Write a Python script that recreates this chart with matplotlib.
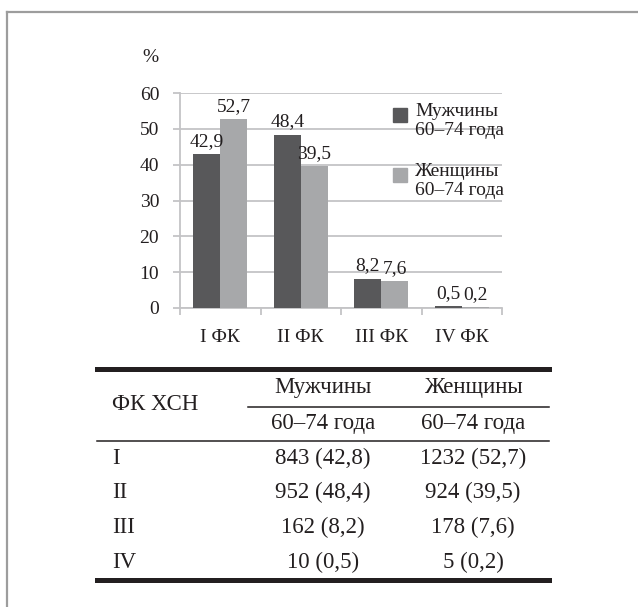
import matplotlib
matplotlib.use("Agg")
import matplotlib.pyplot as plt
from matplotlib.lines import Line2D
from matplotlib.patches import Rectangle

plt.rcParams['font.family'] = ['Liberation Serif', 'DejaVu Serif']

W, H = 638, 607

# chart data
classes = ["I ФК", "II ФК", "III ФК", "IV ФК"]
men = [42.9, 48.4, 8.2, 0.5]
women = [52.7, 39.5, 7.6, 0.2]
series_names = ["Мужчины\n60–74 года", "Женщины\n60–74 года"]

# table data
row_names = ["I", "II", "III", "IV"]
men_n = [843, 952, 162, 10]
men_pct = [42.8, 48.4, 8.2, 0.5]
women_n = [1232, 924, 178, 5]
women_pct = [52.7, 39.5, 7.6, 0.2]

dark = "#58585a"
light = "#a7a8aa"
grid = "#c4c4c6"
ink = "#231f20"
fs = 14      # chart text
ts = 16.5    # table text


def fx(x):
    return x / W


def fy(y):
    return 1 - y / H


def comma(v):
    return f"{v:.1f}".replace(".", ",")


fig = plt.figure(figsize=(W / 100, H / 100), dpi=100)

# frame of the figure (cropped on the right and bottom)
fig.add_artist(Line2D([fx(7), 1], [fy(12), fy(12)], color="#9d9d9d", lw=1.6))
fig.add_artist(Line2D([fx(7), fx(7)], [fy(12), 0], color="#9d9d9d", lw=1.6))

ax = fig.add_axes([fx(180), fy(308), fx(502) - fx(180), fy(93) - fy(308)])
x = range(len(classes))
bw = 0.334
b1 = ax.bar([i - bw / 2 for i in x], men, bw, color=dark, zorder=3)
b2 = ax.bar([i + bw / 2 for i in x], women, bw, color=light, zorder=3)
for bars, vals in ((b1, men), (b2, women)):
    for rect, v in zip(bars, vals):
        ax.annotate(comma(v), (rect.get_x() + rect.get_width() / 2, v),
                    xytext=(0, 3), textcoords="offset points",
                    ha="center", va="bottom", fontsize=fs, color=ink)

ax.set_xlim(-0.5, 3.5)
ax.set_ylim(0, 60)
ax.set_yticks(range(0, 61, 10))
ax.yaxis.grid(True, color=grid, lw=1.3, zorder=0)
ax.set_xticks(list(x))
ax.set_xticklabels(classes)
ax.set_xticks([i - 0.5 for i in range(len(classes) + 1)], minor=True)
ax.tick_params(axis="x", which="major", length=0, pad=15, labelsize=fs, labelcolor=ink)
ax.tick_params(axis="x", which="minor", length=5, width=1.3, color=grid)
ax.tick_params(axis="y", length=5, width=1.3, color=grid, pad=10, labelsize=fs, labelcolor=ink)
for s in ("top", "right"):
    ax.spines[s].set_visible(False)
for s in ("left", "bottom"):
    ax.spines[s].set_color(grid)
    ax.spines[s].set_linewidth(1.3)
fig.text(fx(150), fy(57), "%", ha="center", va="center", fontsize=fs, color=ink)

# legend
for k, (name, col) in enumerate(zip(series_names, (dark, light))):
    y0 = 108 + k * 60
    fig.add_artist(Rectangle((fx(393), fy(y0 + 14)), fx(14), fy(y0) - fy(y0 + 14),
                             color=col, transform=fig.transFigure))
    fig.text(fx(415), fy(y0 - 5), name, ha="left", va="top", fontsize=fs,
             color=ink, linespacing=1.15)

# table
tl, tr = fx(97), fx(549)
fig.add_artist(Line2D([tl, tr], [fy(369), fy(369)], color=ink, lw=3.6))
fig.add_artist(Line2D([fx(248), tr], [fy(407), fy(407)], color=ink, lw=1.1))
fig.add_artist(Line2D([tl, tr], [fy(441), fy(441)], color=ink, lw=1.1))
fig.add_artist(Line2D([tl, tr], [fy(580), fy(580)], color=ink, lw=3.6))

c1, c2 = fx(323), fx(473)
fig.text(fx(112), fy(405), "ФК ХСН", ha="left", va="center", fontsize=ts, color=ink)
fig.text(c1, fy(388), "Мужчины", ha="center", va="center", fontsize=ts, color=ink)
fig.text(c2, fy(388), "Женщины", ha="center", va="center", fontsize=ts, color=ink)
fig.text(c1, fy(423), "60–74 года", ha="center", va="center", fontsize=ts, color=ink)
fig.text(c2, fy(423), "60–74 года", ha="center", va="center", fontsize=ts, color=ink)
for r, name in enumerate(row_names):
    yy = fy(458 + r * 34.7)
    fig.text(fx(112), yy, name, ha="left", va="center", fontsize=ts, color=ink)
    fig.text(c1, yy, f"{men_n[r]} ({comma(men_pct[r])})", ha="center", va="center",
             fontsize=ts, color=ink)
    fig.text(c2, yy, f"{women_n[r]} ({comma(women_pct[r])})", ha="center", va="center",
             fontsize=ts, color=ink)

fig.savefig("out.png", dpi=100)
